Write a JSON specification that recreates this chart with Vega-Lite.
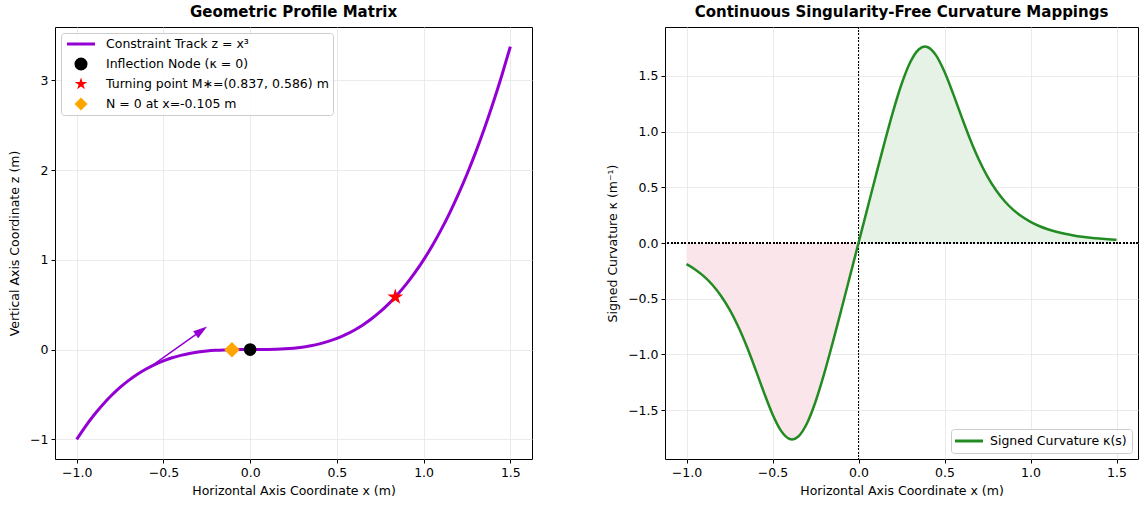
{
  "$schema": "https://vega.github.io/schema/vega-lite/v6.json",
  "background": "white",
  "padding": {"left": 8, "top": 4, "right": 0, "bottom": 0},
  "spacing": 73,
  "config": {
    "font": "DejaVu Sans",
    "view": {"stroke": "black", "strokeWidth": 1},
    "axis": {
      "domain": false,
      "grid": true,
      "gridColor": "#e6e6e6",
      "gridWidth": 0.8,
      "tickColor": "black",
      "tickSize": 4,
      "labelColor": "black",
      "titleColor": "black",
      "labelFont": "DejaVu Sans",
      "titleFont": "DejaVu Sans",
      "labelFontSize": 12.5,
      "titleFontSize": 12.5,
      "titleFontWeight": "normal",
      "labelPadding": 3
    },
    "title": {"font": "DejaVu Sans", "fontSize": 15, "fontWeight": "bold", "color": "black", "offset": 7},
    "legend": {
      "title": null,
      "labelFont": "DejaVu Sans",
      "labelFontSize": 12.5,
      "labelColor": "black",
      "labelLimit": 0,
      "strokeColor": "#cccccc",
      "fillColor": "rgba(255,255,255,0.85)",
      "cornerRadius": 3,
      "padding": 4,
      "offset": 6,
      "symbolOpacity": 1,
      "symbolStrokeWidth": 0
    }
  },
  "datasets": {
    "curve": [
      {"x": -1.0, "z": -1.0}, {"x": -0.95, "z": -0.857375}, {"x": -0.9, "z": -0.729}, {"x": -0.85, "z": -0.614125},
      {"x": -0.8, "z": -0.512}, {"x": -0.75, "z": -0.421875}, {"x": -0.7, "z": -0.343}, {"x": -0.65, "z": -0.274625},
      {"x": -0.6, "z": -0.216}, {"x": -0.55, "z": -0.166375}, {"x": -0.5, "z": -0.125}, {"x": -0.45, "z": -0.091125},
      {"x": -0.4, "z": -0.064}, {"x": -0.35, "z": -0.042875}, {"x": -0.3, "z": -0.027}, {"x": -0.25, "z": -0.015625},
      {"x": -0.2, "z": -0.008}, {"x": -0.15, "z": -0.003375}, {"x": -0.1, "z": -0.001}, {"x": -0.05, "z": -0.000125},
      {"x": 0.0, "z": 0.0}, {"x": 0.05, "z": 0.000125}, {"x": 0.1, "z": 0.001}, {"x": 0.15, "z": 0.003375},
      {"x": 0.2, "z": 0.008}, {"x": 0.25, "z": 0.015625}, {"x": 0.3, "z": 0.027}, {"x": 0.35, "z": 0.042875},
      {"x": 0.4, "z": 0.064}, {"x": 0.45, "z": 0.091125}, {"x": 0.5, "z": 0.125}, {"x": 0.55, "z": 0.166375},
      {"x": 0.6, "z": 0.216}, {"x": 0.65, "z": 0.274625}, {"x": 0.7, "z": 0.343}, {"x": 0.75, "z": 0.421875},
      {"x": 0.8, "z": 0.512}, {"x": 0.85, "z": 0.614125}, {"x": 0.9, "z": 0.729}, {"x": 0.95, "z": 0.857375},
      {"x": 1.0, "z": 1.0}, {"x": 1.05, "z": 1.157625}, {"x": 1.1, "z": 1.331}, {"x": 1.15, "z": 1.520875},
      {"x": 1.2, "z": 1.728}, {"x": 1.25, "z": 1.953125}, {"x": 1.3, "z": 2.197}, {"x": 1.35, "z": 2.460375},
      {"x": 1.4, "z": 2.744}, {"x": 1.45, "z": 3.048625}, {"x": 1.5, "z": 3.375}
    ],
    "kappa": [
      {"x": -1.0, "k": -0.18974, "label": "Signed Curvature κ(s)"},
      {"x": -0.95, "k": -0.23706, "label": "Signed Curvature κ(s)"},
      {"x": -0.9, "k": -0.29762, "label": "Signed Curvature κ(s)"},
      {"x": -0.85, "k": -0.37496, "label": "Signed Curvature κ(s)"},
      {"x": -0.8, "k": -0.47313, "label": "Signed Curvature κ(s)"},
      {"x": -0.75, "k": -0.59623, "label": "Signed Curvature κ(s)"},
      {"x": -0.7, "k": -0.74737, "label": "Signed Curvature κ(s)"},
      {"x": -0.65, "k": -0.92675, "label": "Signed Curvature κ(s)"},
      {"x": -0.6, "k": -1.129, "label": "Signed Curvature κ(s)"},
      {"x": -0.55, "k": -1.3401, "label": "Signed Curvature κ(s)"},
      {"x": -0.5, "k": -1.536, "label": "Signed Curvature κ(s)"},
      {"x": -0.45, "k": -1.68551, "label": "Signed Curvature κ(s)"},
      {"x": -0.4, "k": -1.7585, "label": "Signed Curvature κ(s)"},
      {"x": -0.3861, "k": -1.7623, "label": "Signed Curvature κ(s)"},
      {"x": -0.35, "k": -1.73657, "label": "Signed Curvature κ(s)"},
      {"x": -0.3, "k": -1.6197, "label": "Signed Curvature κ(s)"},
      {"x": -0.25, "k": -1.42423, "label": "Signed Curvature κ(s)"},
      {"x": -0.2, "k": -1.17453, "label": "Signed Curvature κ(s)"},
      {"x": -0.15, "k": -0.89388, "label": "Signed Curvature κ(s)"},
      {"x": -0.1, "k": -0.59919, "label": "Signed Curvature κ(s)"},
      {"x": -0.05, "k": -0.29997, "label": "Signed Curvature κ(s)"},
      {"x": 0.0, "k": 0.0, "label": "Signed Curvature κ(s)"},
      {"x": 0.05, "k": 0.29997, "label": "Signed Curvature κ(s)"},
      {"x": 0.1, "k": 0.59919, "label": "Signed Curvature κ(s)"},
      {"x": 0.15, "k": 0.89388, "label": "Signed Curvature κ(s)"},
      {"x": 0.2, "k": 1.17453, "label": "Signed Curvature κ(s)"},
      {"x": 0.25, "k": 1.42423, "label": "Signed Curvature κ(s)"},
      {"x": 0.3, "k": 1.6197, "label": "Signed Curvature κ(s)"},
      {"x": 0.35, "k": 1.73657, "label": "Signed Curvature κ(s)"},
      {"x": 0.3861, "k": 1.7623, "label": "Signed Curvature κ(s)"},
      {"x": 0.4, "k": 1.7585, "label": "Signed Curvature κ(s)"},
      {"x": 0.45, "k": 1.68551, "label": "Signed Curvature κ(s)"},
      {"x": 0.5, "k": 1.536, "label": "Signed Curvature κ(s)"},
      {"x": 0.55, "k": 1.3401, "label": "Signed Curvature κ(s)"},
      {"x": 0.6, "k": 1.129, "label": "Signed Curvature κ(s)"},
      {"x": 0.65, "k": 0.92675, "label": "Signed Curvature κ(s)"},
      {"x": 0.7, "k": 0.74737, "label": "Signed Curvature κ(s)"},
      {"x": 0.75, "k": 0.59623, "label": "Signed Curvature κ(s)"},
      {"x": 0.8, "k": 0.47313, "label": "Signed Curvature κ(s)"},
      {"x": 0.85, "k": 0.37496, "label": "Signed Curvature κ(s)"},
      {"x": 0.9, "k": 0.29762, "label": "Signed Curvature κ(s)"},
      {"x": 0.95, "k": 0.23706, "label": "Signed Curvature κ(s)"},
      {"x": 1.0, "k": 0.18974, "label": "Signed Curvature κ(s)"},
      {"x": 1.05, "k": 0.15271, "label": "Signed Curvature κ(s)"},
      {"x": 1.1, "k": 0.12364, "label": "Signed Curvature κ(s)"},
      {"x": 1.15, "k": 0.10074, "label": "Signed Curvature κ(s)"},
      {"x": 1.2, "k": 0.08258, "label": "Signed Curvature κ(s)"},
      {"x": 1.25, "k": 0.06811, "label": "Signed Curvature κ(s)"},
      {"x": 1.3, "k": 0.05652, "label": "Signed Curvature κ(s)"},
      {"x": 1.35, "k": 0.04717, "label": "Signed Curvature κ(s)"},
      {"x": 1.4, "k": 0.03959, "label": "Signed Curvature κ(s)"},
      {"x": 1.45, "k": 0.0334, "label": "Signed Curvature κ(s)"},
      {"x": 1.5, "k": 0.02833, "label": "Signed Curvature κ(s)"}
    ],
    "arrow": [{"x": -0.57, "z": -0.185, "x2": -0.265, "z2": 0.233}],
    "head": [{"x": -0.281, "z": 0.211}],
    "pts": [
      {"x": 0.0, "z": 0.0, "s": "Inflection Node (κ = 0)"},
      {"x": 0.837, "z": 0.586, "s": "Turning point M∗=(0.837, 0.586) m"},
      {"x": -0.105, "z": -0.00116, "s": "N = 0 at x=-0.105 m"}
    ]
  },
  "hconcat": [
    {
      "width": 477,
      "height": 432,
      "title": "Geometric Profile Matrix",
      "layer": [
        {
          "data": {"name": "curve"},
          "mark": {"type": "line", "color": "#9400D3", "strokeWidth": 3, "interpolate": "monotone"},
          "encoding": {
            "x": {"field": "x", "type": "quantitative", "scale": {"domain": [-1.125, 1.625], "nice": false, "zero": false},
                  "axis": {"title": "Horizontal Axis Coordinate x (m)", "values": [-1, -0.5, 0, 0.5, 1, 1.5], "format": ".1f", "titlePadding": 6}},
            "y": {"field": "z", "type": "quantitative", "scale": {"domain": [-1.219, 3.594], "nice": false, "zero": false},
                  "axis": {"title": "Vertical Axis Coordinate z (m)", "values": [-1, 0, 1, 2, 3], "format": "d", "titlePadding": 8}}
          }
        },
        {
          "data": {"name": "arrow"},
          "mark": {"type": "rule", "color": "#9400D3", "strokeWidth": 1.5},
          "encoding": {
            "x": {"field": "x", "type": "quantitative"},
            "y": {"field": "z", "type": "quantitative"},
            "x2": {"field": "x2"},
            "y2": {"field": "z2"}
          }
        },
        {
          "data": {"name": "head"},
          "mark": {"type": "point", "filled": true, "opacity": 1, "color": "#9400D3", "shape": "M0,-1L0.62,1L-0.62,1Z", "size": 196, "angle": 54.6},
          "encoding": {
            "x": {"field": "x", "type": "quantitative"},
            "y": {"field": "z", "type": "quantitative"}
          }
        },
        {
          "data": {"name": "pts"},
          "transform": [{"filter": "datum.s === 'N = 0 at x=-0.105 m'"}],
          "mark": {"type": "point", "filled": true, "opacity": 1, "size": 240, "strokeWidth": 0},
          "encoding": {
            "x": {"field": "x", "type": "quantitative"},
            "y": {"field": "z", "type": "quantitative"},
            "color": {"field": "s", "type": "nominal",
              "scale": {"domain": ["Constraint Track z = x³", "Inflection Node (κ = 0)", "Turning point M∗=(0.837, 0.586) m", "N = 0 at x=-0.105 m"],
                        "range": ["#9400D3", "#000000", "#ff0000", "#ffa500"]},
              "legend": {"orient": "top-left", "symbolSize": 170, "symbolOffset": 9, "labelOffset": 18, "rowPadding": 6, "title": null}},
            "shape": {"field": "s", "type": "nominal",
              "scale": {"domain": ["Constraint Track z = x³", "Inflection Node (κ = 0)", "Turning point M∗=(0.837, 0.586) m", "N = 0 at x=-0.105 m"],
                        "range": ["M-2.15,-0.23L2.15,-0.23L2.15,0.23L-2.15,0.23Z", "circle", "M0,-1L0.225,-0.309L0.951,-0.309L0.363,0.118L0.588,0.809L0,0.382L-0.588,0.809L-0.363,0.118L-0.951,-0.309L-0.225,-0.309Z", "diamond"]},
              "legend": {"orient": "top-left", "symbolSize": 170, "symbolOffset": 9, "labelOffset": 18, "rowPadding": 6, "title": null}}
          }
        },
        {
          "data": {"name": "pts"},
          "transform": [{"filter": "datum.s === 'Inflection Node (κ = 0)'"}],
          "mark": {"type": "point", "filled": true, "opacity": 1, "size": 160, "strokeWidth": 0},
          "encoding": {
            "x": {"field": "x", "type": "quantitative"},
            "y": {"field": "z", "type": "quantitative"},
            "color": {"field": "s", "type": "nominal"},
            "shape": {"field": "s", "type": "nominal"}
          }
        },
        {
          "data": {"name": "pts"},
          "transform": [{"filter": "datum.s === 'Turning point M∗=(0.837, 0.586) m'"}],
          "mark": {"type": "point", "filled": true, "opacity": 1, "size": 280, "strokeWidth": 0},
          "encoding": {
            "x": {"field": "x", "type": "quantitative"},
            "y": {"field": "z", "type": "quantitative"},
            "color": {"field": "s", "type": "nominal"},
            "shape": {"field": "s", "type": "nominal"}
          }
        }
      ]
    },
    {
      "width": 473,
      "height": 432,
      "title": "Continuous Singularity-Free Curvature Mappings",
      "data": {"name": "kappa"},
      "layer": [
        {
          "transform": [{"filter": "datum.x >= 0"}],
          "mark": {"type": "area", "color": "#e6f2e6", "opacity": 1, "interpolate": "monotone"},
          "encoding": {
            "x": {"field": "x", "type": "quantitative", "scale": {"domain": [-1.125, 1.625], "nice": false, "zero": false},
                  "axis": {"title": "Horizontal Axis Coordinate x (m)", "values": [-1, -0.5, 0, 0.5, 1, 1.5], "format": ".1f", "titlePadding": 6}},
            "y": {"field": "k", "type": "quantitative", "scale": {"domain": [-1.938, 1.938], "nice": false, "zero": false},
                  "axis": {"title": "Signed Curvature κ (m⁻¹)", "values": [-1.5, -1, -0.5, 0, 0.5, 1, 1.5], "format": ".1f", "titlePadding": 8}},
            "y2": {"datum": 0}
          }
        },
        {
          "transform": [{"filter": "datum.x <= 0"}],
          "mark": {"type": "area", "color": "#fae5ea", "opacity": 1, "interpolate": "monotone"},
          "encoding": {
            "x": {"field": "x", "type": "quantitative"},
            "y": {"field": "k", "type": "quantitative"},
            "y2": {"datum": 0}
          }
        },
        {
          "mark": {"type": "rule", "color": "black", "strokeWidth": 1, "strokeDash": [1.2, 2.2]},
          "encoding": {"y": {"datum": 0}}
        },
        {
          "mark": {"type": "rule", "color": "black", "strokeWidth": 1, "strokeDash": [1.2, 2.2]},
          "encoding": {"x": {"datum": 0}}
        },
        {
          "mark": {"type": "line", "strokeWidth": 2.5, "interpolate": "monotone"},
          "encoding": {
            "x": {"field": "x", "type": "quantitative"},
            "y": {"field": "k", "type": "quantitative"},
            "color": {"field": "label", "type": "nominal", "scale": {"range": ["#228B22"]},
              "legend": {"orient": "bottom-right", "symbolType": "M-2.15,-0.23L2.15,-0.23L2.15,0.23L-2.15,0.23Z", "symbolSize": 170, "symbolOffset": 6, "labelOffset": 14, "padding": 5, "title": null, "symbolStrokeWidth": 0, "symbolFillColor": "#228B22"}}
          }
        }
      ]
    }
  ],
  "resolve": {"scale": {"color": "independent", "shape": "independent"}}
}
